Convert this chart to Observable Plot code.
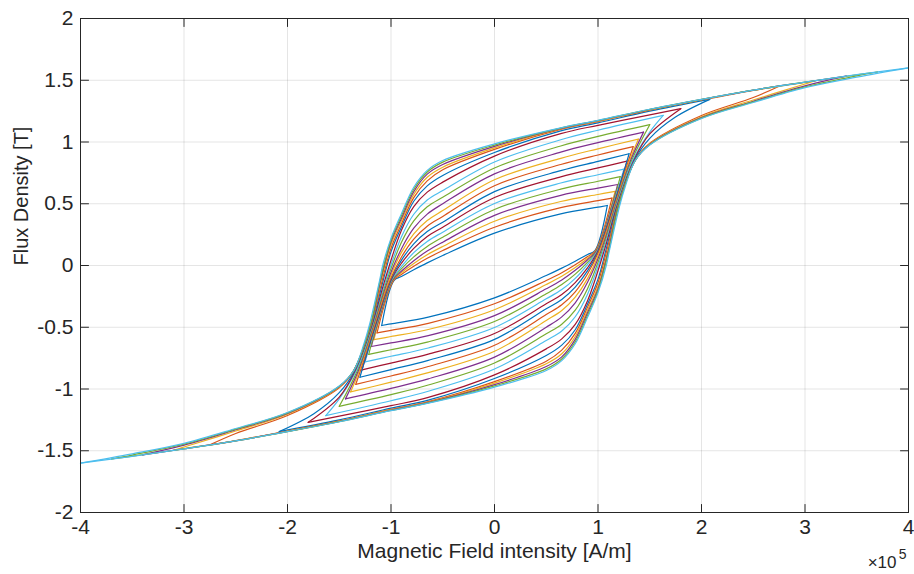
<!DOCTYPE html>
<html><head><meta charset="utf-8">
<script src="https://cdn.jsdelivr.net/npm/d3@7"></script>
<script src="https://cdn.jsdelivr.net/npm/@observablehq/plot@0.6"></script>
<style>body{margin:0;background:#fff}</style>
</head><body><div id="chart"></div>
<script>
// ---- data (H in units of 1e5 A/m, B in T) ----
const xTicks = [-4, -3, -2, -1, 0, 1, 2, 3, 4];
const yTicks = [-2, -1.5, -1, -0.5, 0, 0.5, 1, 1.5, 2];
const xLabel = "Magnetic Field intensity [A/m]";
const yLabel = "Flux Density [T]";
const xExponentBase = "×10";
const xExponent = "5";
const lineColors = ["#0072BD", "#D95319", "#EDB120", "#7E2F8E", "#77AC30", "#4DBEEE", "#A2142F"];

// descending branch of each loop, from its upper-right tip to its lower-left tip
// (the ascending branch is the point reflection of it; the loops are symmetric)
const descendingBranches = [
  [[1.09,0.486],[1.0,0.472],[0.64,0.418],[0,0.262],[-0.5,0.081],[-0.65,0.021],[-0.78,-0.035],[-0.9,-0.089],[-0.97,-0.12],[-1.09,-0.486]],
  [[1.135,0.545],[1.0,0.525],[0.64,0.468],[0,0.31],[-0.5,0.121],[-0.65,0.058],[-0.78,-0.006],[-0.9,-0.072],[-0.975,-0.12],[-1.135,-0.545]],
  [[1.165,0.6],[1.0,0.575],[0.64,0.518],[0,0.358],[-0.5,0.154],[-0.65,0.087],[-0.78,0.017],[-0.9,-0.059],[-0.98,-0.12],[-1.165,-0.6]],
  [[1.19,0.656],[1.0,0.627],[0.64,0.568],[0,0.406],[-0.5,0.189],[-0.65,0.117],[-0.78,0.039],[-0.9,-0.047],[-0.985,-0.12],[-1.135,-0.486],[-1.19,-0.656]],
  [[1.215,0.72],[1.0,0.682],[0.64,0.618],[0,0.454],[-0.5,0.229],[-0.65,0.154],[-0.78,0.07],[-0.9,-0.028],[-0.99,-0.12],[-1.14,-0.486],[-1.215,-0.72]],
  [[1.25,0.78],[1.0,0.735],[0.64,0.668],[0,0.502],[-0.5,0.27],[-0.65,0.195],[-0.78,0.104],[-0.9,-0.01],[-0.995,-0.12],[-1.145,-0.486],[-1.25,-0.78]],
  [[1.28,0.845],[1.0,0.79],[0.64,0.718],[0,0.55],[-0.5,0.31],[-0.65,0.235],[-0.78,0.138],[-0.9,0.017],[-1.0,-0.12],[-1.15,-0.486],[-1.28,-0.845]],
  [[1.3,0.905],[1.0,0.843],[0.64,0.768],[0,0.598],[-0.5,0.35],[-0.65,0.275],[-0.78,0.175],[-0.9,0.042],[-1.005,-0.12],[-1.155,-0.486],[-1.3,-0.905]],
  [[1.34,0.962],[1.0,0.895],[0.64,0.818],[0,0.646],[-0.5,0.397],[-0.65,0.318],[-0.78,0.213],[-0.9,0.067],[-1.01,-0.12],[-1.16,-0.486],[-1.295,-0.85],[-1.34,-0.962]],
  [[1.39,1.023],[1.0,0.945],[0.64,0.868],[0,0.694],[-0.5,0.445],[-0.65,0.364],[-0.78,0.256],[-0.9,0.104],[-1.02,-0.12],[-1.165,-0.486],[-1.305,-0.85],[-1.39,-1.023]],
  [[1.44,1.08],[1.0,0.995],[0.64,0.918],[0,0.742],[-0.5,0.5],[-0.65,0.416],[-0.78,0.302],[-0.9,0.134],[-1.03,-0.12],[-1.17,-0.486],[-1.315,-0.85],[-1.44,-1.08]],
  [[1.5,1.14],[1.0,1.045],[0.64,0.968],[0,0.79],[-0.5,0.553],[-0.65,0.475],[-0.78,0.362],[-0.9,0.186],[-1.04,-0.12],[-1.175,-0.486],[-1.325,-0.85],[-1.5,-1.14]],
  [[1.63,1.215],[1.0,1.095],[0.64,1.018],[0,0.838],[-0.5,0.607],[-0.65,0.53],[-0.78,0.415],[-0.9,0.23],[-1.05,-0.12],[-1.18,-0.486],[-1.335,-0.85],[-1.5,-1.08],[-1.63,-1.215]],
  [[1.8,1.27],[1.5,1.22],[1.0,1.135],[0.64,1.068],[0,0.886],[-0.5,0.675],[-0.65,0.594],[-0.78,0.477],[-0.9,0.283],[-1.06,-0.12],[-1.185,-0.486],[-1.345,-0.85],[-1.5,-1.065],[-1.8,-1.27]],
  [[2.08,1.345],[1.5,1.25],[1.0,1.155],[0.64,1.09],[0,0.915],[-0.5,0.729],[-0.65,0.645],[-0.78,0.52],[-0.9,0.31],[-1.0,0.11],[-1.075,-0.12],[-1.19,-0.486],[-1.35,-0.85],[-1.5,-1.03],[-1.745,-1.2],[-2.08,-1.345]],
  [[2.75,1.452],[2.5,1.418],[2.0,1.34],[1.5,1.258],[1.0,1.165],[0.64,1.102],[0,0.94],[-0.5,0.775],[-0.65,0.685],[-0.78,0.55],[-0.9,0.335],[-1.0,0.14],[-1.085,-0.12],[-1.195,-0.486],[-1.357,-0.85],[-1.5,-0.99],[-2.0,-1.215],[-2.5,-1.36],[-2.75,-1.452]],
  [[3.1,1.497],[3.0,1.483],[2.5,1.419],[2.0,1.342],[1.5,1.261],[1.0,1.169],[0.64,1.107],[0,0.952],[-0.5,0.796],[-0.65,0.715],[-0.78,0.575],[-0.9,0.36],[-1.0,0.17],[-1.095,-0.12],[-1.196,-0.486],[-1.36,-0.85],[-1.5,-0.985],[-2.0,-1.205],[-2.5,-1.34],[-3.0,-1.47],[-3.1,-1.497]],
  [[3.4,1.533],[3.0,1.484],[2.5,1.42],[2.0,1.344],[1.5,1.263],[1.0,1.172],[0.64,1.11],[0,0.965],[-0.5,0.818],[-0.65,0.74],[-0.78,0.598],[-0.9,0.38],[-1.0,0.19],[-1.1,-0.12],[-1.198,-0.486],[-1.36,-0.85],[-1.5,-0.98],[-2.0,-1.198],[-2.5,-1.33],[-3.0,-1.455],[-3.4,-1.533]],
  [[3.7,1.567],[3.5,1.544],[3.0,1.485],[2.5,1.42],[2.0,1.345],[1.5,1.264],[1.0,1.174],[0.64,1.113],[0,0.975],[-0.5,0.837],[-0.65,0.757],[-0.78,0.617],[-0.9,0.4],[-1.0,0.205],[-1.105,-0.12],[-1.2,-0.486],[-1.36,-0.85],[-1.5,-0.977],[-2.0,-1.193],[-2.5,-1.325],[-3.0,-1.447],[-3.5,-1.535],[-3.7,-1.567]],
  [[4.0,1.6],[3.5,1.545],[3.0,1.485],[2.5,1.42],[2.0,1.345],[1.5,1.265],[1.0,1.175],[0.64,1.115],[0,0.985],[-0.5,0.85],[-0.65,0.77],[-0.78,0.634],[-0.9,0.418],[-1.0,0.22],[-1.08,0.0],[-1.11,-0.12],[-1.21,-0.486],[-1.26,-0.63],[-1.36,-0.85],[-1.5,-0.975],[-2.0,-1.19],[-2.5,-1.32],[-3.0,-1.44],[-3.5,-1.525],[-4.0,-1.6]]
];

// ---- build the table for Plot ----
const rows = [];
descendingBranches.forEach((pts, k) => {
  const color = lineColors[k % lineColors.length];
  pts.forEach(([h, b]) => rows.push({id: "d" + k, H: h, B: b, color}));
  pts.forEach(([h, b]) => rows.push({id: "a" + k, H: -h, B: -b, color}));
});

const axisColor = "#262626";
const tickShape = {draw(context, l) { context.moveTo(0, 0); context.lineTo(0, -l); }};
const tickOpts = {length: 8, anchor: "start", shape: tickShape, stroke: axisColor, strokeWidth: 1};

const chart = Plot.plot({
  width: 914,
  height: 574,
  marginLeft: 80,
  marginRight: 6,
  marginTop: 18,
  marginBottom: 62,
  x: {domain: [xTicks[0], xTicks[xTicks.length - 1]]},
  y: {domain: [yTicks[0], yTicks[yTicks.length - 1]]},
  color: {type: "identity"},
  style: {fontFamily: "'Liberation Sans', Arial, Helvetica, sans-serif", color: axisColor, background: "#fff"},
  marks: [
    Plot.gridX(xTicks, {stroke: axisColor, strokeOpacity: 0.12}),
    Plot.gridY(yTicks, {stroke: axisColor, strokeOpacity: 0.12}),
    Plot.line(rows, {x: "H", y: "B", z: "id", stroke: "color", strokeWidth: 1.2, curve: "catmull-rom"}),
    Plot.frame({stroke: axisColor, strokeWidth: 1}),
    Plot.vector(xTicks, {x: d => d, frameAnchor: "bottom", rotate: 0, ...tickOpts}),
    Plot.vector(xTicks, {x: d => d, frameAnchor: "top", rotate: 180, ...tickOpts}),
    Plot.vector(yTicks, {y: d => d, frameAnchor: "left", rotate: 90, ...tickOpts}),
    Plot.vector(yTicks, {y: d => d, frameAnchor: "right", rotate: -90, ...tickOpts}),
    Plot.axisX(xTicks, {anchor: "bottom", tickSize: 0, tickPadding: 7, fontSize: 21, label: null, tickFormat: d => String(d)}),
    Plot.axisY(yTicks, {anchor: "left", tickSize: 0, tickPadding: 7, fontSize: 21, label: null, tickFormat: d => String(d)}),
    Plot.text([xLabel], {frameAnchor: "bottom", dy: 39, fontSize: 21, lineAnchor: "middle", fill: axisColor}),
    Plot.text([yLabel], {frameAnchor: "left", dx: -59, rotate: -90, fontSize: 20, lineAnchor: "middle", fill: axisColor}),
    Plot.text([xExponentBase], {frameAnchor: "bottom-right", dx: -12, dy: 50, fontSize: 17, textAnchor: "end", lineAnchor: "middle", fill: axisColor}),
    Plot.text([xExponent], {frameAnchor: "bottom-right", dx: -2, dy: 42, fontSize: 14, textAnchor: "end", lineAnchor: "middle", fill: axisColor})
  ]
});
document.getElementById("chart").appendChild(chart);
</script></body></html>
